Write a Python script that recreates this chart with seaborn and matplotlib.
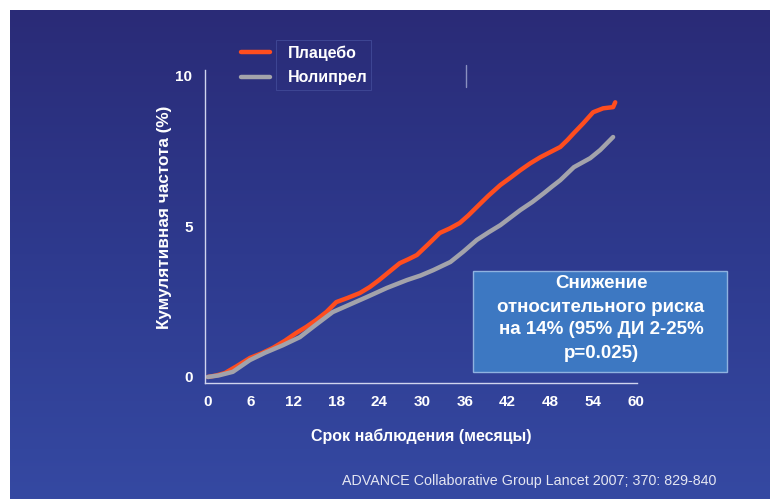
import numpy as np
import pandas as pd
import matplotlib
matplotlib.use("Agg")
import matplotlib.pyplot as plt
from matplotlib.patches import Rectangle
from matplotlib.lines import Line2D
from matplotlib.colors import LinearSegmentedColormap
import seaborn as sns

# ---- data ----
placebo_months = [0, 1.2, 2.4, 4.0, 5.9, 7.5, 9.1, 10.8, 12.4, 13.8, 15.2, 16.6, 18.0, 19.6,
                  21.3, 22.7, 24.0, 25.5, 26.9, 28.1, 29.3, 30.9, 32.5, 33.9, 35.3, 36.5,
                  37.7, 39.3, 41.0, 42.4, 43.8, 45.2, 46.6, 48.0, 49.4, 50.4, 51.3, 52.6,
                  54.0, 55.4, 56.8, 57.1]
placebo_values = [0.0, 0.05, 0.13, 0.35, 0.63, 0.78, 0.96, 1.2, 1.46, 1.66, 1.89, 2.15, 2.48,
                  2.62, 2.78, 2.98, 3.21, 3.5, 3.77, 3.9, 4.04, 4.4, 4.77, 4.92, 5.1, 5.35,
                  5.63, 6.0, 6.36, 6.6, 6.85, 7.08, 7.28, 7.45, 7.62, 7.85, 8.08, 8.4,
                  8.77, 8.9, 8.94, 9.1]
nolipril_months = [0, 1.5, 3.5, 5.9, 8.0, 10.5, 12.9, 15.2, 17.5, 19.9, 22.3, 25.1, 27.9,
                   29.8, 31.6, 34.0, 35.8, 37.7, 39.4, 41.0, 42.4, 43.8, 45.5, 47.1, 48.2,
                   49.4, 51.3, 53.6, 55.0, 56.8]
nolipril_values = [0.0, 0.05, 0.17, 0.56, 0.8, 1.05, 1.32, 1.74, 2.15, 2.4, 2.65, 2.95, 3.21,
                   3.36, 3.54, 3.81, 4.15, 4.54, 4.8, 5.03, 5.28, 5.53, 5.8, 6.09, 6.3,
                   6.52, 6.95, 7.25, 7.52, 7.95]
series_labels = ["Плацебо", "Нолипрел"]
x_ticks = [0, 6, 12, 18, 24, 30, 36, 42, 48, 54, 60]
y_ticks = [0, 5, 10]
box_lines = ["Снижение", "относительного риска", "на 14% (95% ДИ 2-25%", "p=0.025)"]
x_label = "Срок наблюдения (месяцы)"
y_label = "Кумулятивная частота (%)"
source = "ADVANCE Collaborative Group Lancet 2007; 370: 829-840"

df = pd.concat([
    pd.DataFrame({"month": placebo_months, "value": placebo_values, "group": series_labels[0]}),
    pd.DataFrame({"month": nolipril_months, "value": nolipril_values, "group": series_labels[1]}),
])

sns.set_theme(style="white")
plt.rcParams["font.family"] = ["Liberation Sans", "DejaVu Sans"]

W, H = 771, 499
fig = plt.figure(figsize=(W / 100, H / 100), dpi=100)
fig.patch.set_facecolor("white")

# gradient background
bg = fig.add_axes([10 / W, 0, 760 / W, 489 / H], zorder=0)
grad = np.linspace(0, 1, 256).reshape(-1, 1)
cmap = LinearSegmentedColormap.from_list("bg", ["#2a2b77", "#2e3a8e", "#3549a2"])
bg.imshow(grad, aspect="auto", cmap=cmap, extent=[0, 1, 0, 1], origin="upper")
bg.set_xlim(0, 1)
bg.set_ylim(0, 1)
bg.set_axis_off()
# faint decorative marks from the slide
bg.plot([(466 - 10) / 760] * 2, [1 - (65 - 10) / 489, 1 - (87 - 10) / 489],
        color="#8a90c0", lw=1.0)
bg.add_patch(Rectangle(((276 - 10) / 760, 1 - (90 - 10) / 489), 95 / 760, 50 / 489,
                       facecolor="none", edgecolor="#414a98", lw=0.6))

ax = fig.add_axes([205 / W, 1 - 383 / H, 432 / W, 313 / H], zorder=1)
ax.patch.set_alpha(0)
palette = {series_labels[0]: "#ff4d1f", series_labels[1]: "#a3a3ab"}
sns.lineplot(data=df, x="month", y="value", hue="group", palette=palette,
             linewidth=3.2, ax=ax, legend=False, sort=False)
ax.set_xlim(-0.4, 60.15)
ax.set_ylim(-0.2, 10.17)
ax.set_xticks(x_ticks)
ax.set_yticks(y_ticks)
for s in ["top", "right"]:
    ax.spines[s].set_visible(False)
for s in ["left", "bottom"]:
    ax.spines[s].set_color("#d0d4ee")
    ax.spines[s].set_linewidth(1.0)
ax.tick_params(axis="both", colors="#d0d4ee", length=4, width=1, direction="out",
               labelcolor="white", labelsize=11, pad=5)
for lab in ax.get_xticklabels() + ax.get_yticklabels():
    lab.set_fontweight("bold")
ax.set_xlabel(x_label, color="white", fontsize=11.5, fontweight="bold", labelpad=14)
ax.set_ylabel(y_label, color="white", fontsize=12.3, fontweight="bold")
ax.yaxis.set_label_coords((172 - 205) / 432, (383 - 217) / 313)

# legend
handles = [Line2D([], [], color=palette[l], lw=3.2) for l in series_labels]
leg = fig.legend(handles, series_labels, loc="upper left",
                 bbox_to_anchor=(227 / W, 1 - 31 / H), frameon=False,
                 handlelength=1.8, handletextpad=1.1, labelspacing=0.6,
                 prop={"weight": "bold", "size": 11.5})
for t in leg.get_texts():
    t.set_color("white")

# info box
fig.patches.append(Rectangle((473 / W, 1 - 372 / H), 254 / W, 101 / H,
                             transform=fig.transFigure, facecolor="#3d78c2",
                             edgecolor="#8fb2e0", linewidth=1.0, zorder=2))
ys = [284, 307, 330, 353]
for t, y in zip(box_lines, ys):
    fig.text(601 / W, 1 - y / H, t, ha="center", va="center", color="white",
             fontsize=13.5, fontweight="bold", zorder=3)

fig.text(716 / W, 1 - 481 / H, source, ha="right", va="center",
         color="#e4e6f2", fontsize=10.3)

fig.savefig("out.png", dpi=100, facecolor=fig.get_facecolor())
